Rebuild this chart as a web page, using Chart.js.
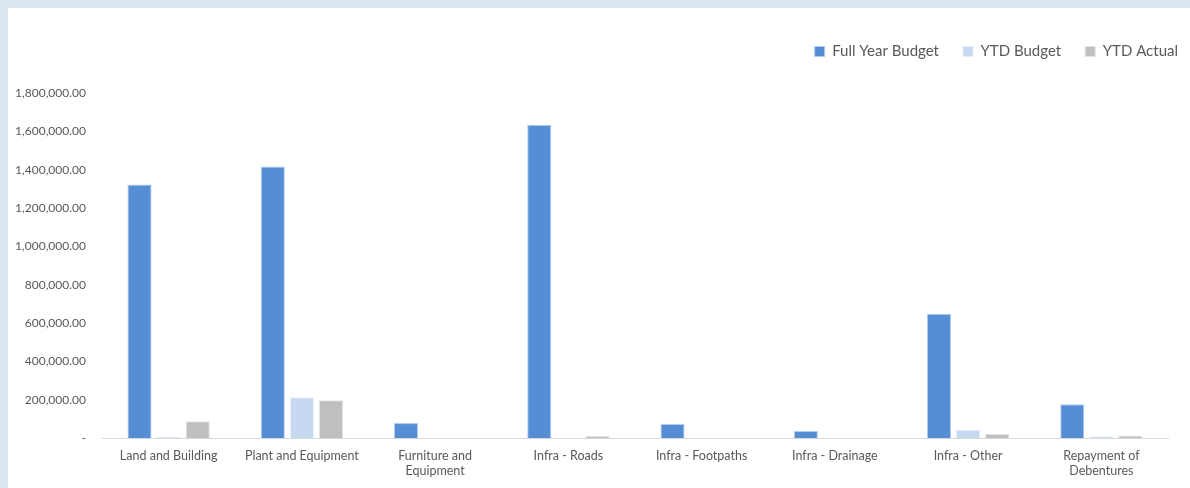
<!DOCTYPE html>
<html>
<head>
<meta charset="utf-8">
<script src="https://cdn.jsdelivr.net/npm/chart.js@4/dist/chart.umd.min.js"></script>
<style>
    html, body { margin: 0; padding: 0; background: #dce6f1; overflow: hidden; }
    #wrap { position: absolute; left: 8px; top: 8px; width: 1182px; height: 480px; background: #fff; overflow: hidden; }
</style>
</head>
<body>
<div id="wrap"><canvas id="budgetChart" width="1194" height="480"></canvas></div>
<script>
const categories = [
    'Land and Building', 'Plant and Equipment', ['Furniture and', 'Equipment'], 'Infra - Roads',
    'Infra - Footpaths', 'Infra - Drainage', 'Infra - Other', ['Repayment of', 'Debentures']
];
const fullYearBudget = [1323000, 1416000, 78000, 1634000, 73000, 36000, 648000, 176000];
const ytdBudget = [5000, 213000, 0, 0, 0, 0, 42000, 9000];
const ytdActual = [88000, 197000, 0, 10000, 0, 0, 21000, 13000];
const yTicks = [0, 200000, 400000, 600000, 800000, 1000000, 1200000, 1400000, 1600000, 1800000];

const FONT = 'Lato, "Open Sans", sans-serif';
const TEXT = '#595959';

// push the plot area down below the legend
const legendGap = {
    id: 'legendGap',
    beforeInit(chart) {
        const origFit = chart.legend.fit;
        chart.legend.fit = function () {
            origFit.bind(chart.legend)();
            this.height += 24;
        };
    }
};

function fmt(v) {
    if (v === 0) return '-';
    return v.toLocaleString('en-US', { minimumFractionDigits: 2, maximumFractionDigits: 2 });
}

new Chart(document.getElementById('budgetChart').getContext('2d'), {
    type: 'bar',
    data: {
        labels: categories,
        datasets: [
            { label: 'Full Year Budget', data: fullYearBudget, backgroundColor: '#558ed5', borderColor: '#b4cdee', borderWidth: 1 },
            { label: 'YTD Budget', data: ytdBudget, backgroundColor: '#c6d9f1', borderColor: '#e6eef9', borderWidth: 1 },
            { label: 'YTD Actual', data: ytdActual, backgroundColor: '#bfbfbf', borderColor: '#e3e3e3', borderWidth: 1 }
        ]
    },
    options: {
        responsive: false,
        animation: false,
        datasets: { bar: { categoryPercentage: 0.655, barPercentage: 0.83 } },
        layout: { padding: { top: 12, right: 0, left: 0, bottom: 0 } },
        plugins: {
            legend: {
                position: 'top',
                align: 'end',
                labels: {
                    font: { family: FONT, size: 15 },
                    color: TEXT,
                    boxWidth: 10,
                    boxHeight: 10,
                    padding: 24
                }
            },
            tooltip: { enabled: false }
        },
        scales: {
            x: {
                grid: { display: false, drawTicks: false },
                border: { display: true, color: '#d9d9d9', width: 1 },
                ticks: {
                    font: { family: FONT, size: 12.5 },
                    color: TEXT,
                    maxRotation: 0,
                    autoSkip: false,
                    padding: 10
                }
            },
            y: {
                min: 0,
                max: 1800000,
                grid: { display: false, drawTicks: false },
                border: { display: false },
                afterFit(s) { s.width = 94; },
                afterBuildTicks(s) { s.ticks = yTicks.map(v => ({ value: v })); },
                ticks: {
                    font: { family: FONT, size: 12 },
                    color: TEXT,
                    padding: 16,
                    callback: v => fmt(v)
                }
            },
            yRight: {
                position: 'right',
                display: true,
                grid: { display: false, drawTicks: false },
                border: { display: false },
                ticks: { display: false },
                afterFit(s) { s.width = 34; }
            }
        }
    },
    plugins: [legendGap]
});
</script>
</body>
</html>
